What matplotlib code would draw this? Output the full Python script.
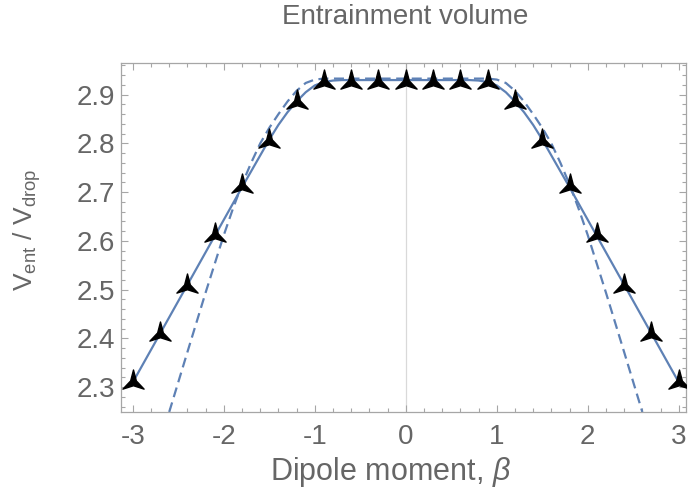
import numpy as np
import matplotlib
matplotlib.use("Agg")
import matplotlib.pyplot as plt
from matplotlib.path import Path
from matplotlib.ticker import MultipleLocator

plt.rcParams['font.family'] = ['Liberation Sans', 'DejaVu Sans']
plt.rcParams['mathtext.fontset'] = 'custom'
plt.rcParams['mathtext.rm'] = 'Liberation Sans'
plt.rcParams['mathtext.it'] = 'Liberation Sans:italic'

# simulation points (markers)
beta_pts = [-3.0, -2.7, -2.4, -2.1, -1.8, -1.5, -1.2, -0.9, -0.6, -0.3, 0.0,
            0.3, 0.6, 0.9, 1.2, 1.5, 1.8, 2.1, 2.4, 2.7, 3.0]
vol_pts = [2.310, 2.409, 2.508, 2.612, 2.712, 2.806, 2.885, 2.926, 2.926, 2.926, 2.926,
           2.926, 2.926, 2.926, 2.885, 2.806, 2.712, 2.612, 2.508, 2.409, 2.310]

# solid model curve
beta_solid = [-3.0, -2.4, -1.8, -1.5, -1.4, -1.3, -1.2, -1.1, -1.0, -0.9, -0.8, -0.7,
              0.7, 0.8, 0.9, 1.0, 1.1, 1.2, 1.3, 1.4, 1.5, 1.8, 2.4, 3.0]
vol_solid = [2.310, 2.510, 2.710, 2.808, 2.838, 2.864, 2.886, 2.905, 2.919, 2.926, 2.929, 2.930,
             2.930, 2.929, 2.926, 2.919, 2.905, 2.886, 2.864, 2.838, 2.808, 2.710, 2.510, 2.310]

# dashed model curve
beta_dash = [-2.6, -2.4, -2.2, -2.0, -1.9, -1.8, -1.7, -1.6, -1.5, -1.4, -1.3, -1.2, -1.1, -1.0, -0.9,
             0.9, 1.0, 1.1, 1.2, 1.3, 1.4, 1.5, 1.6, 1.7, 1.8, 1.9, 2.0, 2.2, 2.4, 2.6]
vol_dash = [2.249, 2.372, 2.494, 2.612, 2.666, 2.716, 2.760, 2.800, 2.832, 2.860, 2.886, 2.908, 2.924, 2.931, 2.933,
            2.933, 2.931, 2.924, 2.908, 2.886, 2.860, 2.832, 2.800, 2.760, 2.716, 2.666, 2.612, 2.494, 2.372, 2.249]

# three pointed star marker (arms up, lower left, lower right)
ang_out = np.deg2rad([90, 212, 328])
ang_in = np.deg2rad([151, 270, 29])
verts = []
for a_o, a_i in zip(ang_out, ang_in):
    verts.append((np.cos(a_o), np.sin(a_o)))
    verts.append((0.26 * np.cos(a_i), 0.26 * np.sin(a_i)))
verts.append(verts[0])
codes = [Path.MOVETO] + [Path.LINETO] * (len(verts) - 2) + [Path.CLOSEPOLY]
star = Path(verts, codes)

blue = '#5E81B5'
gray_txt = '#666666'
gray_frame = '#a6a6a6'

fig = plt.figure(figsize=(6.88, 5.0), dpi=100)
ax = fig.add_axes([121 / 688, 1 - 412 / 500, (686 - 121) / 688, (412 - 63) / 500])

ax.axvline(0, color='#d9d9d9', lw=0.9, zorder=0)
ax.plot(beta_solid, vol_solid, color=blue, lw=1.6, zorder=2)
ax.plot(beta_dash, vol_dash, color=blue, lw=1.6, ls=(0, (4.5, 2.5)), zorder=2)
ax.plot(beta_pts, vol_pts, ls='none', marker=star, ms=18, color='black', zorder=3)

ax.set_xlim(-3.13, 3.08)
ax.set_ylim(2.249, 2.965)

ax.xaxis.set_minor_locator(MultipleLocator(0.2))
ax.yaxis.set_minor_locator(MultipleLocator(0.02))
ax.set_xticks([-3, -2, -1, 0, 1, 2, 3])
ax.set_xticklabels(['-3', '-2', '-1', '0', '1', '2', '3'])
ax.set_yticks([2.3, 2.4, 2.5, 2.6, 2.7, 2.8, 2.9])
ax.set_yticklabels(['2.3', '2.4', '2.5', '2.6', '2.7', '2.8', '2.9'])

ax.tick_params(which='both', direction='in', top=True, right=True, color=gray_frame,
               labelcolor=gray_txt, labelsize=20, width=0.8)
ax.tick_params(which='major', length=5)
ax.tick_params(which='minor', length=3)
ax.tick_params(axis='y', pad=4)
ax.tick_params(axis='x', pad=9)
for s in ax.spines.values():
    s.set_color(gray_frame)
    s.set_linewidth(0.9)

fig.text(405 / 688, 1 - 17 / 500, 'Entrainment volume', ha='center', va='center',
         fontsize=20, color=gray_txt)
fig.text(390 / 688, 1 - 472 / 500, r'Dipole moment, $\beta$', ha='center', va='center',
         fontsize=22, color=gray_txt)
fig.text(27 / 688, 1 - 230 / 500, r'$\mathregular{V_{ent}\ /\ V_{drop}}$', ha='center', va='center',
         rotation=90, fontsize=19, color=gray_txt)

fig.savefig('out.png', dpi=100)
